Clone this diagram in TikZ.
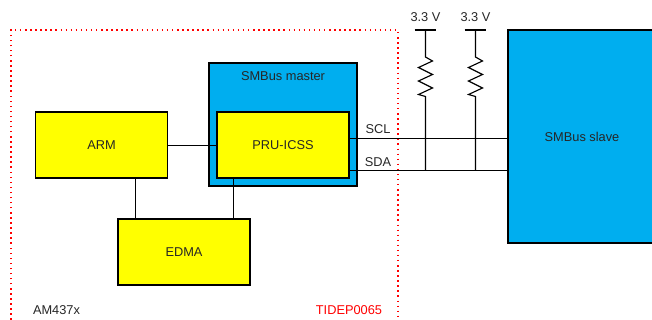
\documentclass[tikz,border=0pt]{standalone}
\usepackage{fontspec}
\setmainfont{Liberation Sans}
\usepackage{tikz}

\definecolor{busblue}{HTML}{00AEEF}
\definecolor{blkyellow}{HTML}{FFFF00}
\tikzset{
	blk/.style={draw=black, line width=1.1pt, fill=blkyellow, minimum width=99pt, minimum height=49.5pt, inner sep=0pt, outer sep=0pt},
	bus/.style={draw=black, line width=1.1pt, fill=busblue, inner sep=0pt, outer sep=0pt},
	txt/.style={font=\fontsize{9.6}{11}\selectfont, text=black!85, inner sep=0pt},
	wire/.style={draw=black, line width=0.85pt}
}

\begin{document}
\begin{tikzpicture}[x=0.75pt, y=-0.75pt]
	\clip (0,0) rectangle (652,320);
	
	% device outline
	\draw[red, line width=1.1pt, dash pattern=on 1.1pt off 2.7pt] (11,325) -- (11,30) -- (398,30) -- (398,325);
	\node[txt] (soc) at (56.5,310) {AM437x};
	\node[txt, text=red] (ref) at (349,310) {TIDEP0065};
	
	% blocks
	\node[bus, minimum width=111pt, minimum height=92.25pt] (master) at (283,124.5) {};
	\node[txt] (mastertxt) at (283,76) {SMBus master};
	\node[blk] (arm) at (101.5,145) {};
	\node[txt] at (arm) {ARM};
	\node[blk] (pru) at (283,145) {};
	\node[txt] at (pru) {PRU-ICSS};
	\node[blk] (edma) at (184,252) {};
	\node[txt] at (edma) {EDMA};
	\node[bus, minimum width=112.5pt, minimum height=159.75pt] (slave) at (583,136.5) {};
	\node[txt] at (582,136.5) {SMBus slave};
	
	% internal links
	\coordinate (armright) at (168,145.5);
	\coordinate (armdown) at (135.5,178);
	\coordinate (prudown) at (233.5,178);
	\draw[wire] (armright) -- (armright -| pru.west);
	\draw[wire] (armdown) -- (armdown |- edma.north);
	\draw[wire] (prudown) -- (prudown |- edma.north);
	
	% bus lines
	\coordinate (sclpru) at (349,138.5);
	\coordinate (sdapru) at (349,170.5);
	\draw[wire] (sclpru) -- (sclpru -| slave.west);
	\draw[wire] (sdapru) -- (sdapru -| slave.west);
	\node[txt] (scl) at (378,129) {SCL};
	\node[txt] (sda) at (378,162) {SDA};
	
	% pull ups
	\foreach \n/\x in {a/425.5, b/475.5}{
		\node[txt] (vcc\n) at (\x,17) {3.3 V};
		\coordinate (rail\n) at (\x,30);
		\coordinate (sda\n) at (\x,170.5);
		\draw[wire] ([xshift=-8.1pt]rail\n) -- ([xshift=8.1pt]rail\n);
		\draw[wire] (rail\n) -- (\x,57) -- ++(7,4) -- ++(-14,6.5) -- ++(14,7) -- ++(-14,6.5) -- ++(14,7) -- ++(-14,6.5) -- ++(7,2) -- (sda\n);
	}
\end{tikzpicture}
\end{document}
